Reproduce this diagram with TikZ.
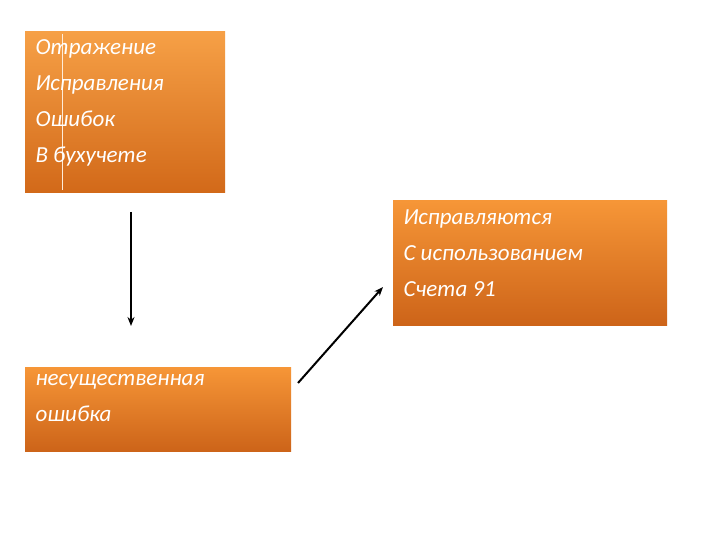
\documentclass[tikz,border=0pt]{standalone}
\usepackage{fontspec}
\setmainfont{Carlito}
\usetikzlibrary{arrows.meta}
\begin{document}
\begin{tikzpicture}[x=1pt,y=-1pt,
  otext/.style={anchor=north west,align=left,text=white,font=\itshape\fontsize{23}{36}\selectfont},
  arr/.style={-{Stealth[length=9pt,width=7pt]},line width=2pt}]
\useasboundingbox (0,0) rectangle (720,540);
\fill[white] (0,0) rectangle (720,540);
\shade[top color={rgb,255:red,246;green,160;blue,70},bottom color={rgb,255:red,210;green,105;blue,25}] (25,32) rectangle (225,193);
\shade[top color={rgb,255:red,246;green,150;blue,55},bottom color={rgb,255:red,205;green,100;blue,25}] (393,201) rectangle (667,325);
\shade[top color={rgb,255:red,246;green,150;blue,55},bottom color={rgb,255:red,205;green,100;blue,25}] (25,367) rectangle (291,451);
\draw[white!85!orange,line width=0.6pt] (62,34) -- (62,190);
\node[otext] (t1) at (32,36) {Отражение\\Исправления\\Ошибок\\В бухучете};
\node[otext] (t2) at (400,206) {Исправляются\\С использованием\\Счета 91};
\node[otext] (t3) at (32,371) {несущественная\\ошибка};
\coordinate (a1) at (131,212);
\coordinate (b1) at (131,326);
\coordinate (a2) at (298,383);
\coordinate (b2) at (383,287);
\draw[arr] (a1) -- (b1);
\draw[arr] (a2) -- (b2);
\end{tikzpicture}
\end{document}
